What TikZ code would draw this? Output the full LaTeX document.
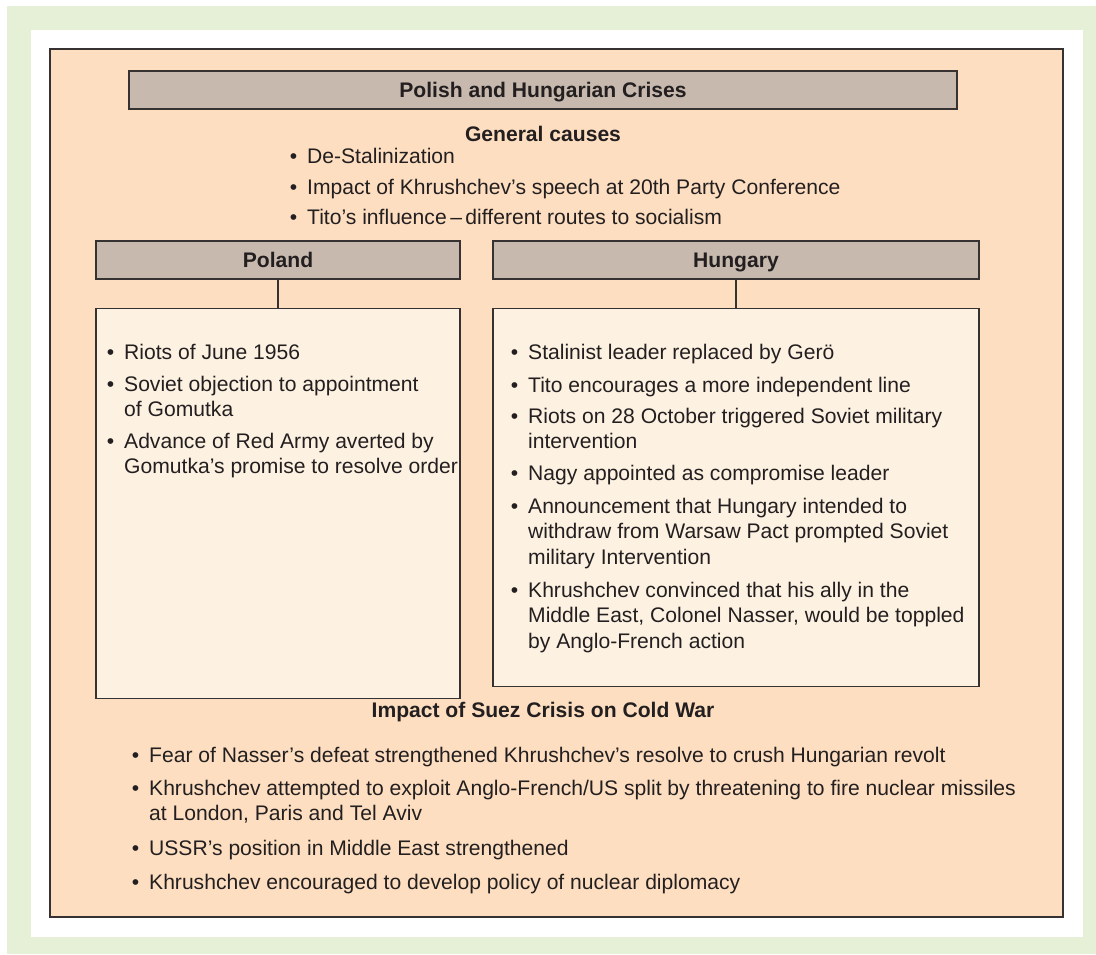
\documentclass[tikz,border=0pt]{standalone}
\usepackage{fontspec}
\setmainfont{Liberation Sans}
\definecolor{framegreen}{RGB}{229,240,214}
\definecolor{panelpeach}{RGB}{253,222,192}
\definecolor{headgray}{RGB}{199,185,173}
\definecolor{boxcream}{RGB}{253,241,225}
\definecolor{edgedark}{RGB}{55,50,50}
\definecolor{inkc}{RGB}{35,31,32}
% bullet hanging to the left of an item
\newcommand\bul{\llap{\textbullet\hspace{10pt}}}
% lines of one item, baseline at the first line
\newcommand\itemlines[1]{\begin{tabular}[t]{@{}l@{}}#1\end{tabular}}
\begin{document}
\begin{tikzpicture}[x=1pt,y=-1pt,
  headbox/.style={draw=edgedark,line width=1.3pt,fill=headgray,inner sep=0pt,
    text height=15.2pt,text depth=0pt,text=inkc,
    font=\fontsize{21.1}{25.5}\selectfont\bfseries},
  listbox/.style={draw=edgedark,line width=1.3pt,fill=boxcream,inner sep=0pt,anchor=north},
  entry/.style={anchor=base west,inner sep=0pt,text=inkc,
    font=\fontsize{21.1}{25.5}\selectfont},
  heading/.style={anchor=base,inner sep=0pt,text=inkc,
    font=\fontsize{21.1}{25.5}\selectfont\bfseries},
  conn/.style={draw=edgedark,line width=1.6pt}]
\useasboundingbox (0,0) rectangle (1096,954);
% frame and panel
\fill[white] (0,0) rectangle (1096,954);
\fill[framegreen] (7,6) rectangle (1096,954);
\fill[white] (31,30) rectangle (1083,937);
\draw[edgedark,line width=1.5pt,fill=panelpeach] (50,49) rectangle (1063,917);

% title and general causes
\node[headbox,minimum width=828pt,minimum height=38pt] (title) at (543,90) {Polish and Hungarian Crises};
\node[heading] (gen) at (543,141) {General causes};
\node[entry] (g1) at (307,163) {\itemlines{\bul De-Stalinization}};
\node[entry] (g2) at (307,194) {\itemlines{\bul Impact of Khrushchev's speech at 20th Party Conference}};
\node[entry] (g3) at (307,224) {\itemlines{\bul Tito's influence\,--\,different routes to socialism}};

% Poland column
\node[headbox,minimum width=364pt,minimum height=38pt] (phead) at (278,260) {Poland};
\node[listbox,minimum width=364pt,minimum height=390pt] (pbox) at (278,308) {};
\draw[conn] (phead.south) -- (pbox.north);
\node[entry] (p1) at (124,359) {\itemlines{\bul Riots of June 1956}};
\node[entry] (p2) at (124,391) {\itemlines{\bul Soviet objection to appointment\\of Gomutka}};
\node[entry] (p3) at (124,448) {\itemlines{\bul Advance of Red Army averted by\\Gomutka's promise to resolve order}};

% Hungary column
\node[headbox,minimum width=486pt,minimum height=38pt] (hhead) at (736,260) {Hungary};
\node[listbox,minimum width=486pt,minimum height=378pt] (hbox) at (736,308) {};
\draw[conn] (hhead.south) -- (hbox.north);
\node[entry] (h1) at (528,359) {\itemlines{\bul Stalinist leader replaced by Gerö}};
\node[entry] (h2) at (528,392) {\itemlines{\bul Tito encourages a more independent line}};
\node[entry] (h3) at (528,423) {\itemlines{\bul Riots on 28 October triggered Soviet military\\intervention}};
\node[entry] (h4) at (528,480) {\itemlines{\bul Nagy appointed as compromise leader}};
\node[entry] (h5) at (528,513) {\itemlines{\bul Announcement that Hungary intended to\\withdraw from Warsaw Pact prompted Soviet\\military Intervention}};
\node[entry] (h6) at (528,597) {\itemlines{\bul Khrushchev convinced that his ally in the\\Middle East, Colonel Nasser, would be toppled\\by Anglo-French action}};

% Suez crisis
\node[heading] (suez) at (543,717) {Impact of Suez Crisis on Cold War};
\node[entry] (s1) at (149,762) {\itemlines{\bul Fear of Nasser's defeat strengthened Khrushchev's resolve to crush Hungarian revolt}};
\node[entry] (s2) at (149,795) {\itemlines{\bul Khrushchev attempted to exploit Anglo-French/US split by threatening to fire nuclear missiles\\at London, Paris and Tel Aviv}};
\node[entry] (s3) at (149,855) {\itemlines{\bul USSR's position in Middle East strengthened}};
\node[entry] (s4) at (149,889) {\itemlines{\bul Khrushchev encouraged to develop policy of nuclear diplomacy}};
\end{tikzpicture}
\end{document}
